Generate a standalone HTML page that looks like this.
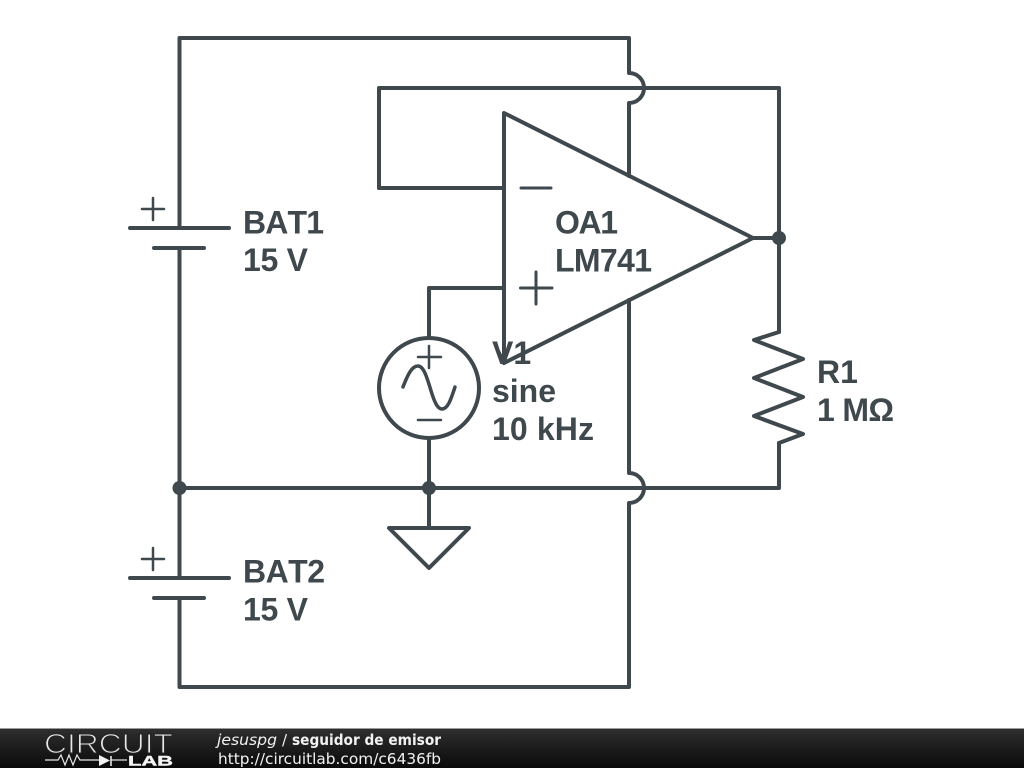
<!DOCTYPE html>
<html>
<head>
<meta charset="utf-8">
<style>
html,body{margin:0;padding:0;background:#fff;width:1024px;height:768px;overflow:hidden}
svg{display:block;position:absolute;left:0;top:0}
.l{font-family:"Liberation Sans",sans-serif;font-weight:bold;font-size:32px;fill:#3f484d;font-kerning:none}
.f{font-family:"DejaVu Sans",sans-serif;font-size:15px;fill:#f2f2f2}
</style>
</head>
<body>
<svg width="1024" height="768" viewBox="0 0 1024 768" xmlns="http://www.w3.org/2000/svg">
<defs>
<linearGradient id="bar" x1="0" y1="0" x2="0" y2="1">
<stop offset="0" stop-color="#2e2e2e"/>
<stop offset="1" stop-color="#0a0a0a"/>
</linearGradient>
</defs>
<rect width="1024" height="768" fill="#fff"/>
<g fill="none" stroke="#3f484d" stroke-width="4" stroke-linecap="round" stroke-linejoin="round">
<path d="M179.5 228V38H629V73A15 15 0 0 1 629 103V176"/>
<path d="M629 300V473A15 15 0 0 1 629 503V687H179.5V598"/>
<path d="M179.5 248V578"/>
<path d="M379 188V88H779V332"/>
<path d="M379 188H504"/>
<path d="M753 238H779"/>
<path d="M429 338V288H504"/>
<path d="M179.5 488H779V443"/>
<path d="M429 438V528"/>
<path d="M504 113L753 238L504 363Z"/>
<path d="M498 351L504 363"/>
<path d="M521 188H551M520.5 288H552M536 272V304" stroke-width="3"/>
<path d="M130 228H229M154 248H204"/>
<path d="M142 209H164M153 198V220" stroke-width="2.5"/>
<path d="M130 578H229M154 598H204"/>
<path d="M142 559H164M153 548V570" stroke-width="2.5"/>
<path d="M779 332L754 340L803 359L754 378L803 397L754 416L803 434L779 443"/>
<circle cx="429" cy="388" r="50"/>
<path d="M418 357H441M429 346V368M418 420H441" stroke-width="2.5"/>
<path d="M403 387C408 374 412 366 418 366C429 366 431 409 442 409C448 409 451 399 455 387" stroke-width="3.5"/>
<path d="M389 528H469L429 568Z"/>
</g>
<g fill="#3f484d">
<circle cx="179.5" cy="488" r="7"/>
<circle cx="429" cy="488" r="7"/>
<circle cx="779" cy="238" r="7"/>
</g>
<text class="l" x="243" y="233.5" textLength="81" lengthAdjust="spacing">BAT1</text>
<text class="l" x="243" y="271" textLength="65" lengthAdjust="spacing">15 V</text>
<text class="l" x="243" y="582.5" textLength="82" lengthAdjust="spacing">BAT2</text>
<text class="l" x="243" y="620.5" textLength="65" lengthAdjust="spacing">15 V</text>
<text class="l" x="555" y="233.5" textLength="63" lengthAdjust="spacing">OA1</text>
<text class="l" x="555" y="271.5" textLength="97" lengthAdjust="spacing">LM741</text>
<text class="l" x="492" y="364">V1</text>
<text class="l" x="492" y="402" textLength="64" lengthAdjust="spacing">sine</text>
<text class="l" x="492" y="440" textLength="102" lengthAdjust="spacing">10 kHz</text>
<text class="l" x="817" y="383">R1</text>
<text class="l" x="817" y="421" textLength="77" lengthAdjust="spacing">1 MΩ</text>
<rect x="0" y="729" width="1024" height="39" fill="url(#bar)"/>
<rect x="0" y="728" width="1024" height="1" fill="#9a9a9a"/>
<text x="44" y="753" font-family="'Liberation Sans',sans-serif" font-size="27.5" fill="#e8e8e8" stroke="#232323" stroke-width="1.1" textLength="129" lengthAdjust="spacingAndGlyphs">CIRCUIT</text>
<path d="M45 760H58L61 755L65 765L69 755L73 765L77 755L80 760H99" fill="none" stroke="#e8e8e8" stroke-width="1.2"/>
<path d="M99 755L110 760.5L99 766Z" fill="#f2f2f2"/>
<path d="M111 756V766" stroke="#f2f2f2" stroke-width="1.5"/>
<path d="M111 760H127" stroke="#e8e8e8" stroke-width="1.2"/>
<text x="128" y="765.5" font-family="'Liberation Sans',sans-serif" font-size="13.5" font-weight="bold" fill="#f5f5f5" stroke="#f5f5f5" stroke-width=".4" textLength="45" lengthAdjust="spacingAndGlyphs">LAB</text>
<text class="f" x="217" y="745" font-style="italic" textLength="60" lengthAdjust="spacingAndGlyphs">jesuspg</text>
<text class="f" x="282" y="745">/</text>
<text class="f" x="292" y="745" font-weight="bold" textLength="149" lengthAdjust="spacingAndGlyphs">seguidor de emisor</text>
<text class="f" x="218" y="764" textLength="223" lengthAdjust="spacingAndGlyphs">http://circuitlab.com/c6436fb</text>
</svg>
</body>
</html>
